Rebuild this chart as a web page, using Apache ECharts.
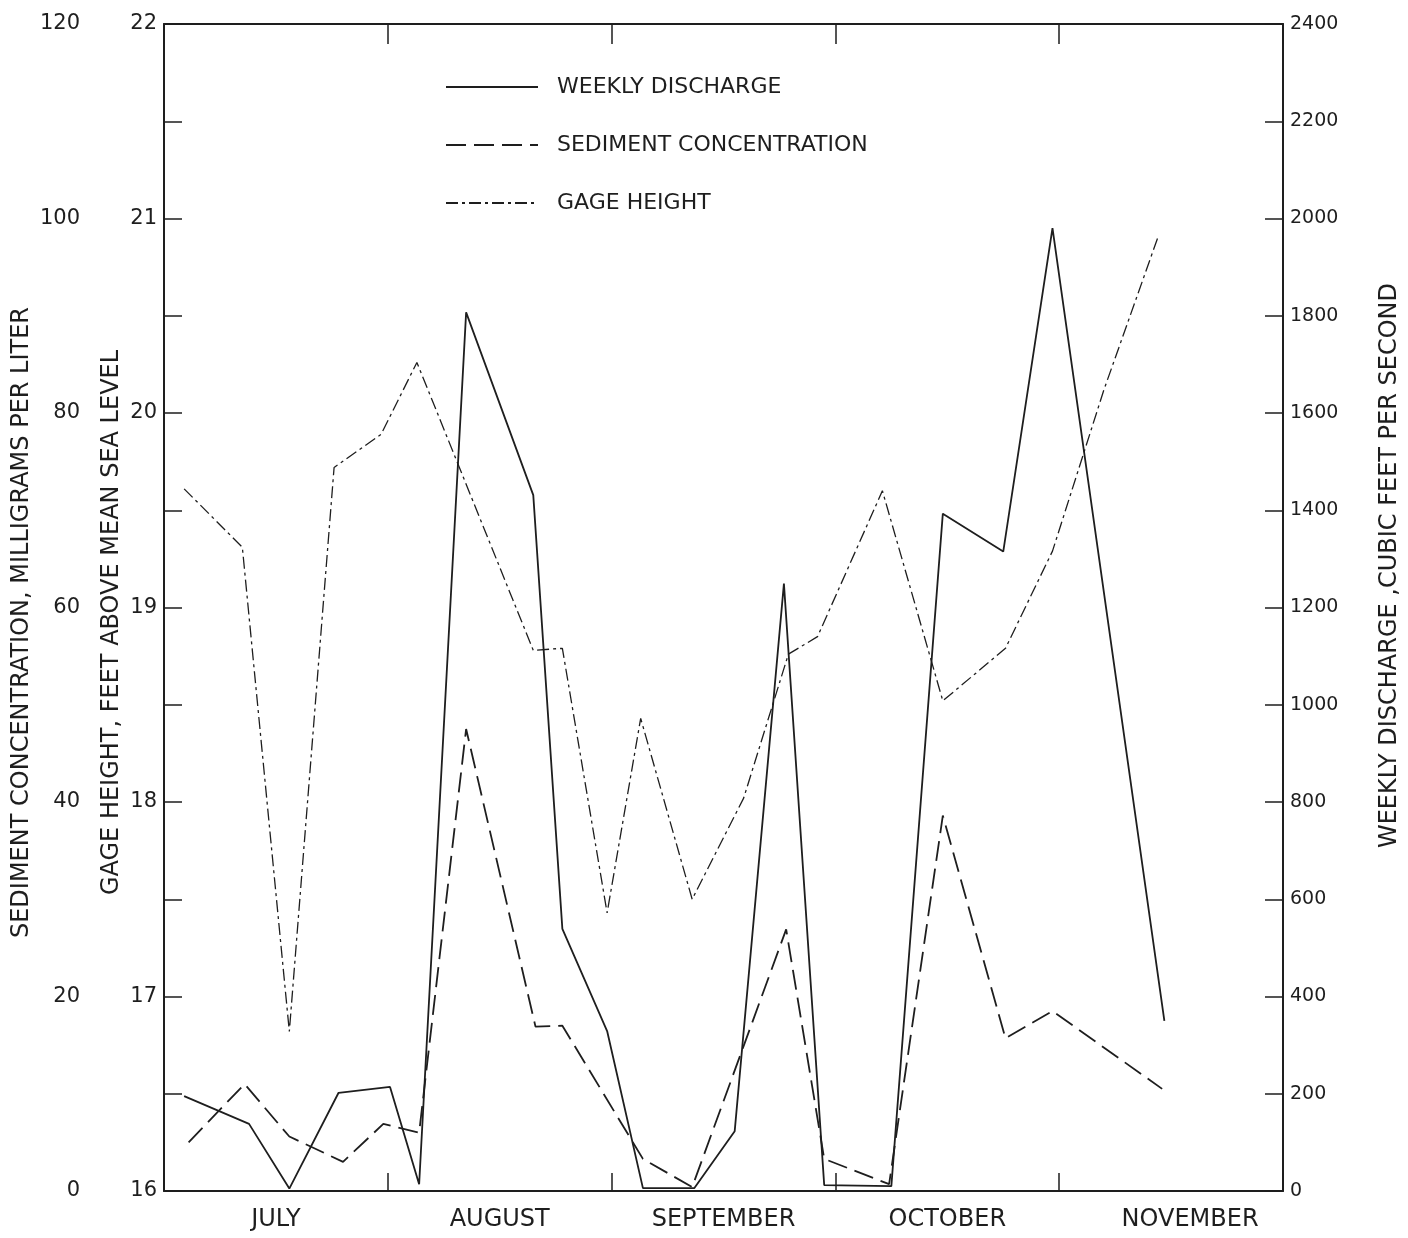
<!DOCTYPE html>
<html>
<head>
<meta charset="utf-8">
<script src="https://cdn.jsdelivr.net/npm/echarts@6/dist/echarts.min.js"></script>
<style>
html,body{margin:0;padding:0;background:#fff;}
#chart{width:1408px;height:1238px;}
</style>
</head>
<body>
<div id="chart"></div>
<script>
// ---- data (x in months since start of July) ----
const months = ['JULY', 'AUGUST', 'SEPTEMBER', 'OCTOBER', 'NOVEMBER'];

const dischargeX   = [0.09, 0.38, 0.56, 0.78, 1.01, 1.14, 1.35, 1.65, 1.78, 1.98, 2.14, 2.37, 2.55, 2.77, 2.95, 3.25, 3.48, 3.75, 3.97, 4.47];
const dischargeCfs = [195, 138, 5, 202, 214, 14, 1807, 1431, 539, 329, 6, 6, 123, 1249, 12, 10, 1393, 1315, 1980, 350];

const sedimentX   = [0.11, 0.36, 0.56, 0.80, 0.98, 1.14, 1.35, 1.66, 1.78, 2.14, 2.36, 2.78, 2.95, 3.24, 3.48, 3.76, 3.97, 4.46];
const sedimentMgL = [5.0, 11.0, 5.6, 3.0, 6.9, 6.0, 47.5, 16.9, 17.0, 3.3, 0.4, 26.9, 3.3, 0.7, 38.6, 15.7, 18.5, 10.5];

const gageX  = [0.09, 0.35, 0.56, 0.76, 0.97, 1.13, 1.65, 1.78, 1.98, 2.13, 2.36, 2.59, 2.79, 2.92, 3.21, 3.48, 3.76, 3.97, 4.20, 4.44];
const gageFt = [19.61, 19.31, 16.82, 19.72, 19.89, 20.26, 18.78, 18.79, 17.43, 18.43, 17.50, 18.02, 18.76, 18.85, 19.60, 18.52, 18.79, 19.29, 20.12, 20.90];

const zip = (xs, ys) => xs.map((x, i) => [x, ys[i]]);

const INK = '#1e1e1e';
const FONT = 'DejaVu Sans';

const chart = echarts.init(document.getElementById('chart'), null, {renderer: 'canvas'});

chart.setOption({
  backgroundColor: '#ffffff',
  animation: false,
  textStyle: {fontFamily: FONT, color: INK},
  grid: {left: 164, right: 125, top: 24, bottom: 47, containLabel: false, outerBoundsMode: 'none'},
  legend: {
    orient: 'vertical',
    left: 440, top: 71,
    itemWidth: 92, itemHeight: 14,
    itemGap: 36,
    itemStyle: {opacity: 0},
    textStyle: {fontFamily: FONT, fontSize: 22, color: INK, padding: [0, 0, 0, 14]},
    data: ['WEEKLY DISCHARGE', 'SEDIMENT CONCENTRATION', 'GAGE HEIGHT']
  },
  xAxis: [
    {
      type: 'category', position: 'bottom', data: months, boundaryGap: true,
      axisLine: {show: true, onZero: false, lineStyle: {color: INK, width: 2}},
      axisTick: {show: true, inside: true, length: 18, interval: 0, lineStyle: {color: INK, width: 1.5}},
      axisLabel: {
        interval: 0, hideOverlap: false,
        fontFamily: FONT, fontSize: 24, color: INK, margin: 17,
        formatter: (v, i) => i === months.length - 1 ? '{n|' + v + '}' : v,
        rich: {n: {fontFamily: FONT, fontSize: 24, color: INK, padding: [0, 0, 0, 38]}}
      },
      splitLine: {show: false}
    },
    {
      type: 'value', position: 'top', min: 0, max: 5, interval: 1,
      axisLine: {show: true, onZero: false, lineStyle: {color: INK, width: 2}},
      axisTick: {show: true, inside: true, length: 20, lineStyle: {color: INK, width: 1.5}},
      axisLabel: {show: false},
      splitLine: {show: false}
    }
  ],
  yAxis: [
    {
      type: 'value', position: 'left', min: 16, max: 22, interval: 1,
      name: 'GAGE HEIGHT, FEET ABOVE MEAN SEA LEVEL',
      nameLocation: 'middle', nameRotate: 90, nameGap: 40, nameMoveOverlap: false,
      nameTextStyle: {fontFamily: FONT, fontSize: 24, color: INK, padding: [0, 30, 0, 0]},
      axisLine: {show: true, onZero: false, lineStyle: {color: INK, width: 2}},
      axisTick: {show: true, inside: true, length: 18, lineStyle: {color: INK, width: 1.5}},
      minorTick: {show: true, splitNumber: 2, length: 18, lineStyle: {color: INK, width: 1.5}},
      axisLabel: {fontFamily: FONT, fontSize: 21, color: INK, margin: 7},
      splitLine: {show: false}
    },
    {
      type: 'value', position: 'left', offset: 76, min: 0, max: 120, interval: 20,
      name: 'SEDIMENT CONCENTRATION, MILLIGRAMS PER LITER',
      nameLocation: 'middle', nameRotate: 90, nameGap: 54, nameMoveOverlap: false,
      nameTextStyle: {fontFamily: FONT, fontSize: 24, color: INK, padding: [0, 30, 0, 0]},
      axisLine: {show: false},
      axisTick: {show: false},
      axisLabel: {fontFamily: FONT, fontSize: 21, color: INK, margin: 8},
      splitLine: {show: false}
    },
    {
      type: 'value', position: 'right', min: 0, max: 2400, interval: 200,
      name: 'WEEKLY DISCHARGE ,CUBIC FEET PER SECOND',
      nameLocation: 'middle', nameRotate: 90, nameGap: 95, nameMoveOverlap: false,
      nameTextStyle: {fontFamily: FONT, fontSize: 24, color: INK, padding: [0, 0, 0, 84]},
      axisLine: {show: true, onZero: false, lineStyle: {color: INK, width: 2}},
      axisTick: {show: true, inside: true, length: 18, lineStyle: {color: INK, width: 1.5}},
      axisLabel: {fontFamily: FONT, fontSize: 19, color: INK, margin: 7, formatter: v => String(v)},
      splitLine: {show: false}
    }
  ],
  series: [
    {
      name: 'WEEKLY DISCHARGE', type: 'line', xAxisIndex: 1, yAxisIndex: 2,
      data: zip(dischargeX, dischargeCfs),
      symbol: 'none', lineStyle: {color: INK, width: 1.8, type: 'solid'},
      itemStyle: {color: INK}
    },
    {
      name: 'SEDIMENT CONCENTRATION', type: 'line', xAxisIndex: 1, yAxisIndex: 1,
      data: zip(sedimentX, sedimentMgL),
      symbol: 'none', lineStyle: {color: INK, width: 1.8, type: [20, 8]},
      itemStyle: {color: INK}
    },
    {
      name: 'GAGE HEIGHT', type: 'line', xAxisIndex: 1, yAxisIndex: 0,
      data: zip(gageX, gageFt),
      symbol: 'none', lineStyle: {color: INK, width: 1.3, type: [12, 4, 3, 4]},
      itemStyle: {color: INK}
    }
  ]
});
</script>
</body>
</html>
